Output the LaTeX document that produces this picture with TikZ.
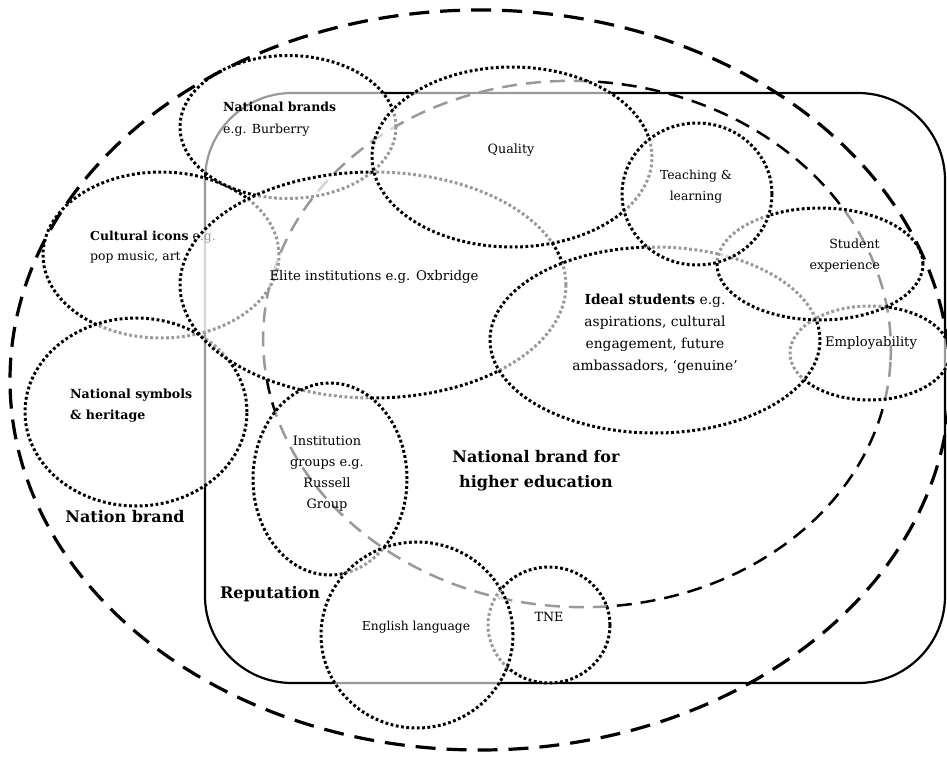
\documentclass[tikz,border=0pt]{standalone}
\usepackage{fontspec}
\setmainfont{DejaVu Serif}
\usetikzlibrary{shapes.geometric}
\begin{document}
\begin{tikzpicture}[x=1pt,y=-1pt,
  ring/.style={ellipse, draw=black, line width=3pt, dash pattern=on 2.8pt off 2.5pt,
    fill=white, fill opacity=0.6, inner sep=0pt},
  lbl/.style={font=\fontsize{12.7}{21}\selectfont, inner sep=0pt, align=center, text=black},
  biglbl/.style={font=\fontsize{16}{25}\selectfont\bfseries, inner sep=0pt, align=center, text=black},
  outerdash/.style={draw=black, line width=3.2pt, dash pattern=on 20pt off 11pt},
  hedash/.style={draw=black, line width=2.5pt, dash pattern=on 15pt off 9pt},
  repbox/.style={draw=black, line width=2.2pt, rounded corners=87pt}
]
\fill[white] (0,0) rectangle (947,757);
\useasboundingbox (0,0) rectangle (947,757);

% Reputation box
\draw[repbox] (205,93) rectangle (945,683);
% National brand for higher education (dashed)
\node[ellipse, hedash, inner sep=0pt, minimum width=628pt, minimum height=526pt, rotate=-3] (he) at (577,344) {};

% Cultural icons
\node[ring, minimum width=236pt, minimum height=166pt] (cul) at (161,255) {};
\node[lbl, align=left, anchor=west, font=\fontsize{12.4}{20}\selectfont] (culT) at (90,247) {\textbf{Cultural icons} e.g.\\pop music, art};
% National brands
\node[ring, minimum width=216pt, minimum height=143pt] (nb) at (288,127) {};
\node[lbl, align=left, anchor=west, font=\fontsize{12.5}{22}\selectfont] (nbT) at (223,119) {\textbf{National brands}\\e.g. Burberry};
% National symbols
\node[ring, minimum width=222pt, minimum height=188pt] (ns) at (136,412) {};
\node[lbl, align=left, anchor=west, font=\fontsize{12.6}{21}\selectfont\bfseries] (nsT) at (70,405.5) {National symbols\\\& heritage};
% Elite institutions
\node[ring, minimum width=386pt, minimum height=226pt] (eli) at (373,285) {};
\node[lbl, font=\fontsize{13.3}{21}\selectfont] (eliT) at (374,277) {Elite institutions e.g. Oxbridge};
% Institution groups
\node[ring, minimum width=154pt, minimum height=192pt] (ig) at (330,479) {};
\node[lbl, font=\fontsize{12.9}{21}\selectfont] (igT) at (327,473.5) {Institution\\groups e.g.\\Russell\\Group};
% Quality
\node[ring, minimum width=280pt, minimum height=180pt] (qua) at (512,157) {};
\node[lbl] (quaT) at (511,150) {Quality};
% Employability
\node[ring, minimum width=160pt, minimum height=94pt] (emp) at (870,353) {};
\node[lbl, font=\fontsize{13.2}{21}\selectfont] (empT) at (871,343) {Employability};
% Ideal students
\node[ring, minimum width=330pt, minimum height=186pt] (ide) at (655,340) {};
\node[lbl, font=\fontsize{13.8}{22}\selectfont] (ideT) at (655,334) {\textbf{Ideal students} e.g.\\aspirations, cultural\\engagement, future\\ambassadors, ‘genuine’};
% Student experience
\node[ring, minimum width=206pt, minimum height=112pt] (sex) at (820,264) {};
\node[lbl, align=right, anchor=east, font=\fontsize{12.6}{21}\selectfont] (sexT) at (880,255.5) {Student\\experience};
% Teaching & learning
\node[ring, minimum width=150pt, minimum height=142pt] (tl) at (697,194) {};
\node[lbl, font=\fontsize{12.4}{21}\selectfont] (tlT) at (696,186.5) {Teaching \&\\learning};
% TNE
\node[ring, minimum width=122pt, minimum height=116pt] (tne) at (549,625) {};
\node[lbl] (tneT) at (549,617) {TNE};
% English language
\node[ring, minimum width=192pt, minimum height=186pt] (eng) at (417,635) {};
\node[lbl, font=\fontsize{12.3}{21}\selectfont] (engT) at (416,627) {English language};

% Nation brand (outer dashed)
\node[ellipse, outerdash, inner sep=0pt, minimum width=940pt, minimum height=740pt] (nation) at (480,380) {};

% Big labels
\node[biglbl] (nationT) at (125,517) {Nation brand};
\node[biglbl] (repT) at (270,594) {Reputation};
\node[biglbl] (heT) at (536,470.5) {National brand for\\higher education};
\end{tikzpicture}
\end{document}
